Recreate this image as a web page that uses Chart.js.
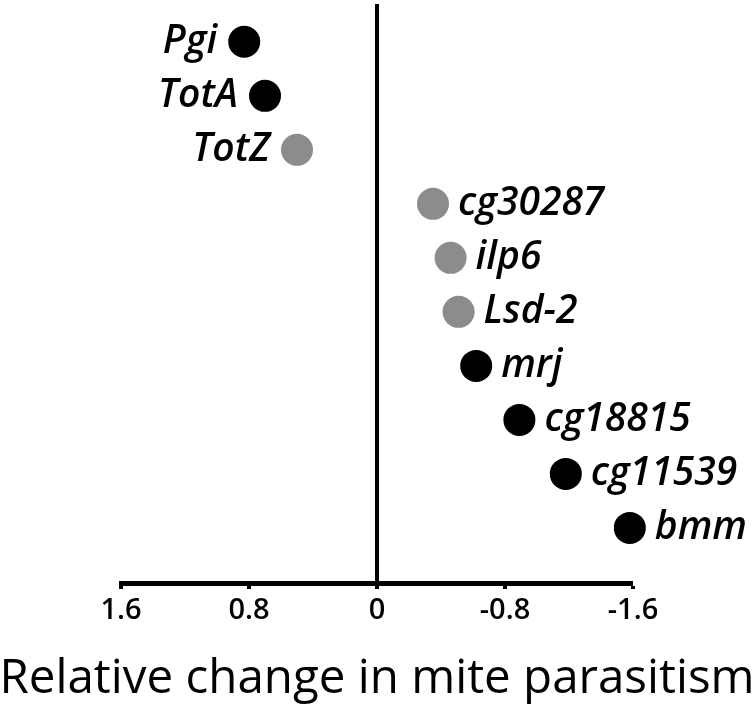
<!DOCTYPE html>
<html>
<head>
<meta charset="utf-8">
<script src="https://cdn.jsdelivr.net/npm/chart.js@4"></script>
<style>
  html, body { margin: 0; padding: 0; background: #fff; }
  #wrap { width: 756px; height: 710px; }
</style>
</head>
<body>
<div id="wrap"><canvas id="miteChart" width="756" height="710"></canvas></div>
<script>
// genes, top to bottom
const genes = ['Pgi', 'TotA', 'TotZ', 'cg30287', 'ilp6', 'Lsd-2', 'mrj', 'cg18815', 'cg11539', 'bmm'];
// relative change in mite parasitism
const changes = [0.83, 0.70, 0.50, -0.35, -0.46, -0.51, -0.62, -0.89, -1.18, -1.58];
// black = dark dot, grey = light dot
const shades = ['black', 'black', 'grey', 'grey', 'grey', 'grey', 'black', 'black', 'black', 'black'];
const xTicks = [1.6, 0.8, 0, -0.8, -1.6];
const xTitle = 'Relative change in mite parasitism';

const colorFor = { black: '#000000', grey: '#8c8c8c' };

// draws the gene name next to each dot, left of it for positive values
const geneLabels = {
    id: 'geneLabels',
    afterDatasetsDraw(chart) {
        const ctx = chart.ctx;
        const meta = chart.getDatasetMeta(0);
        ctx.save();
        ctx.font = 'italic 600 39px "Open Sans"';
        ctx.fillStyle = '#000';
        ctx.textBaseline = 'middle';
        meta.data.forEach((pt, i) => {
            if (changes[i] > 0) {
                ctx.textAlign = 'right';
                ctx.fillText(genes[i], pt.x - 27, pt.y);
            } else {
                ctx.textAlign = 'left';
                ctx.fillText(genes[i], pt.x + 25, pt.y);
            }
        });
        ctx.restore();
    }
};

// axis title drawn by hand, chart.js squeezes it to the axis width
const axisTitle = {
    id: 'axisTitle',
    afterDraw(chart) {
        const ctx = chart.ctx;
        ctx.save();
        ctx.font = '47.5px "Open Sans"';
        ctx.fillStyle = '#000';
        ctx.textAlign = 'center';
        ctx.textBaseline = 'alphabetic';
        ctx.fillText(xTitle, 377, 693);
        ctx.restore();
    }
};

const points = changes.map((v, i) => ({ x: v, y: i }));

new Chart(document.getElementById('miteChart'), {
    type: 'scatter',
    data: {
        datasets: [{
            data: points,
            clip: false,
            pointRadius: 16,
            pointHoverRadius: 16,
            pointBorderWidth: 0,
            pointBackgroundColor: shades.map(s => colorFor[s]),
            pointBorderColor: shades.map(s => colorFor[s])
        }]
    },
    options: {
        responsive: false,
        animation: false,
        layout: { autoPadding: false, padding: { left: 121, right: 123, top: 4, bottom: 4 } },
        plugins: {
            legend: { display: false },
            tooltip: { enabled: false }
        },
        scales: {
            x: {
                type: 'linear',
                reverse: true,
                min: -1.6,
                max: 1.6,
                afterBuildTicks(axis) {
                    axis.ticks = xTicks.map(v => ({ value: v }));
                },
                afterFit(axis) {
                    axis.height = 123;
                },
                border: { display: true, color: '#000', width: 5 },
                grid: {
                    drawOnChartArea: true,
                    color: c => (c.tick && c.tick.value === 0 ? '#000' : 'rgba(0,0,0,0)'),
                    lineWidth: c => (c.tick && c.tick.value === 0 ? 4 : 0),
                    drawTicks: true,
                    tickLength: 6,
                    tickColor: '#000',
                    tickWidth: 4
                },
                ticks: {
                    color: '#000',
                    padding: 4,
                    font: { family: 'Open Sans', size: 29, weight: '600' },
                    callback: v => String(v)
                }
            },
            y: {
                type: 'linear',
                display: false,
                reverse: true,
                min: -0.7,
                max: 10.02
            }
        }
    },
    plugins: [geneLabels, axisTitle]
});
</script>
</body>
</html>
